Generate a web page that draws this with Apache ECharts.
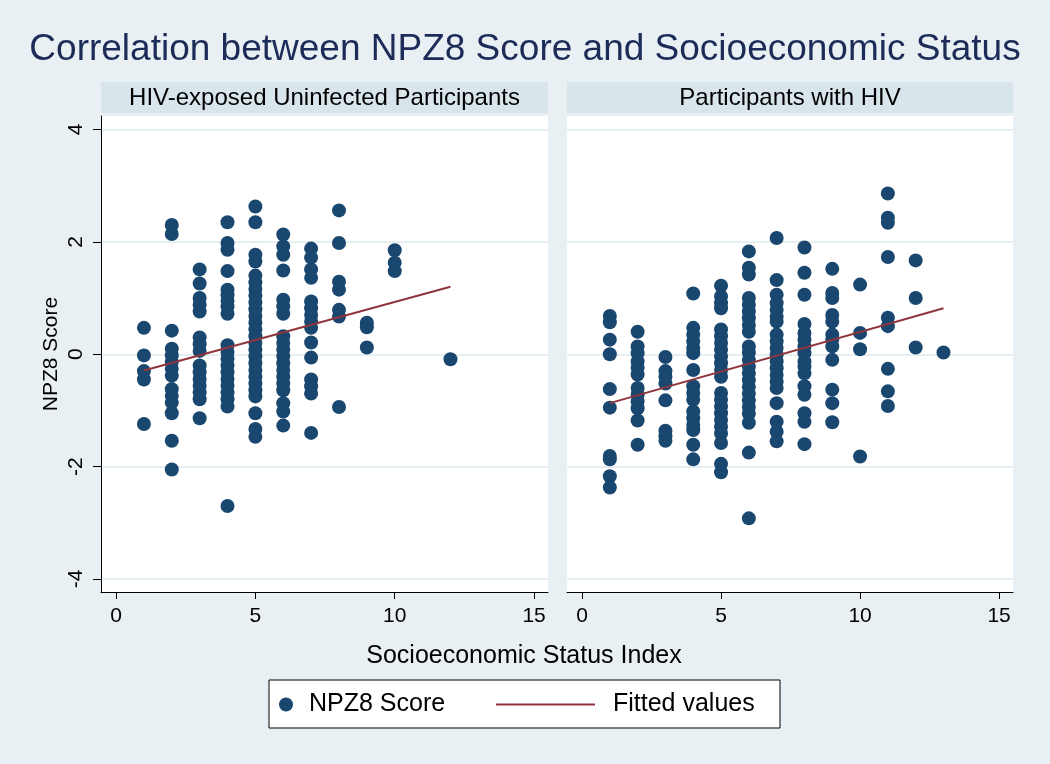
<!DOCTYPE html>
<html>
<head>
<meta charset="utf-8">
<script src="https://cdn.jsdelivr.net/npm/echarts@6/dist/echarts.min.js"></script>
<style>
html,body{margin:0;padding:0;background:#e9f0f3;}
#chart{width:1050px;height:764px;}
</style>
</head>
<body>
<div id="chart"></div>
<script>
// ---- Data ----
const titleText = 'Correlation between NPZ8 Score and Socioeconomic Status';
const panelTitles = ['HIV-exposed Uninfected Participants', 'Participants with HIV'];
const xTitle = 'Socioeconomic Status Index';
const yTitle = 'NPZ8 Score';
const xTicks = [0, 5, 10, 15];
const yTicks = [-4, -2, 0, 2, 4];

// HIV-exposed uninfected: SES index values and NPZ8 scores at each
const heuSES = [1, 2, 3, 4, 5, 6, 7, 8, 9, 10, 12];
const heuNPZ8 = [
  [0.47, -0.02, -0.30, -0.45, -1.24],
  [2.30, 2.14, 0.42, 0.10, -0.02, -0.14, -0.26, -0.38, -0.62, -0.74, -0.86, -1.05, -1.54, -2.05],
  [1.51, 1.26, 1.00, 0.88, 0.76, 0.30, 0.18, 0.06, -0.20, -0.32, -0.44, -0.56, -0.68, -0.80, -1.14],
  [2.35, 1.98, 1.86, 1.48, 1.15, 1.05, 0.95, 0.85, 0.72, 0.16, 0.04, -0.08, -0.20, -0.32, -0.44, -0.56, -0.68, -0.80, -0.93, -2.70],
  [2.63, 2.35, 1.77, 1.65, 1.40, 1.28, 1.16, 1.04, 0.92, 0.80, 0.68, 0.56, 0.44, 0.32, 0.20, 0.08, -0.04, -0.16, -0.28, -0.40, -0.52, -0.64, -0.75, -1.05, -1.33, -1.47],
  [2.13, 1.92, 1.77, 1.49, 0.97, 0.85, 0.72, 0.32, 0.20, 0.08, -0.04, -0.16, -0.28, -0.40, -0.52, -0.64, -0.87, -1.02, -1.27],
  [1.88, 1.72, 1.51, 1.36, 0.94, 0.82, 0.70, 0.58, 0.47, 0.21, -0.06, -0.45, -0.57, -0.70, -1.40],
  [2.56, 1.98, 1.29, 1.15, 0.79, 0.67, -0.94],
  [0.56, 0.48, 0.12],
  [1.85, 1.63, 1.48],
  [-0.09]
];
const heuFitX = [1, 12];
const heuFitY = [-0.29, 1.20];

// Participants with HIV
const hivSES = [1, 2, 3, 4, 5, 6, 7, 8, 9, 10, 11, 12, 13];
const hivNPZ8 = [
  [0.68, 0.57, 0.26, 0.00, -0.62, -0.95, -1.81, -1.87, -2.17, -2.37],
  [0.40, 0.14, 0.02, -0.13, -0.24, -0.36, -0.60, -0.72, -0.84, -0.96, -1.18, -1.61],
  [-0.05, -0.30, -0.40, -0.52, -0.82, -1.36, -1.46, -1.54],
  [1.08, 0.47, 0.35, 0.23, 0.11, 0.02, -0.28, -0.57, -0.69, -0.81, -1.02, -1.14, -1.26, -1.35, -1.61, -1.87],
  [1.22, 1.03, 0.91, 0.82, 0.44, 0.32, 0.20, 0.08, -0.04, -0.16, -0.28, -0.40, -0.69, -0.81, -0.93, -1.05, -1.17, -1.29, -1.41, -1.58, -1.95, -2.10],
  [1.83, 1.54, 1.42, 1.00, 0.88, 0.76, 0.64, 0.52, 0.40, 0.14, 0.03, -0.10, -0.22, -0.34, -0.46, -0.58, -0.70, -0.82, -0.94, -1.06, -1.22, -1.75, -2.92],
  [2.07, 1.32, 1.06, 0.91, 0.79, 0.67, 0.58, 0.35, 0.23, 0.11, -0.01, -0.13, -0.25, -0.37, -0.49, -0.60, -0.87, -1.20, -1.38, -1.55],
  [1.90, 1.45, 1.06, 0.54, 0.38, 0.26, 0.14, 0.02, -0.13, -0.22, -0.34, -0.57, -0.72, -1.05, -1.20, -1.60],
  [1.52, 1.09, 1.00, 0.70, 0.58, 0.35, 0.26, 0.14, -0.10, -0.63, -0.87, -1.21],
  [1.24, 0.38, 0.09, -1.82],
  [2.86, 2.43, 2.34, 1.73, 0.65, 0.50, -0.26, -0.66, -0.92],
  [1.67, 1.00, 0.12],
  [0.03]
];
const hivFitX = [1, 13];
const hivFitY = [-0.87, 0.82];

// ---- Build ----
function pairs(xs, ys) {
  const out = [];
  xs.forEach((x, i) => ys[i].forEach(v => out.push([x, v])));
  return out;
}
function line(xs, ys) { return xs.map((x, i) => [x, ys[i]]); }

const FONT = '"Liberation Sans", Arial, Helvetica, sans-serif';
const NAVY = '#1a476f';
const MAROON = '#90353b';
const GRIDC = '#e5eef1';
const STRIP = '#d8e5ea';

function xAxisFor(gi) {
  return {
    type: 'value', gridIndex: gi, min: -0.54, max: 15.5,
    axisLine: { show: true, onZero: false, lineStyle: { color: '#000', width: 1 } },
    axisTick: { show: true, length: 7, customValues: xTicks, lineStyle: { color: '#000' } },
    axisLabel: { customValues: xTicks, fontSize: 21, color: '#000', fontFamily: FONT, margin: 14 },
    splitLine: { show: false }
  };
}
function yAxisFor(gi, first) {
  return {
    type: 'value', gridIndex: gi, min: -4.231, max: 4.24,
    axisLine: { show: first, onZero: false, lineStyle: { color: '#000', width: 1 } },
    axisTick: { show: first, length: 8, customValues: yTicks, lineStyle: { color: '#000' } },
    axisLabel: { show: first, customValues: yTicks, rotate: 90, fontSize: 21, color: '#000', fontFamily: FONT, margin: 14 },
    splitLine: { show: true, lineStyle: { color: GRIDC, width: 2 } },
    name: first ? yTitle : '', nameLocation: 'middle', nameGap: 39,
    nameTextStyle: { fontSize: 21, color: '#000', fontFamily: FONT }
  };
}

const chart = echarts.init(document.getElementById('chart'), null, { renderer: 'canvas' });
chart.setOption({
  backgroundColor: '#e9f0f3',
  animation: false,
  title: {
    text: titleText, left: 'center', top: 31, padding: 0,
    textStyle: { fontSize: 37, fontWeight: 'normal', color: '#1c2b58', fontFamily: FONT }
  },
  grid: [
    { left: 101, top: 116, width: 447, height: 476, show: true, backgroundColor: '#fff', borderWidth: 0 },
    { left: 567, top: 116, width: 446, height: 476, show: true, backgroundColor: '#fff', borderWidth: 0 }
  ],
  xAxis: [xAxisFor(0), xAxisFor(1)],
  yAxis: [yAxisFor(0, true), yAxisFor(1, false)],
  legend: [
    { data: [{ name: 'NPZ8 Score', icon: 'circle' }], left: 279, top: 692, padding: 0, itemWidth: 14, itemHeight: 14, selectedMode: false,
      textStyle: { fontSize: 25, color: '#000', fontFamily: FONT, padding: [0, 0, 0, 11] } },
    { data: [{ name: 'Fitted values', icon: 'rect' }], left: 496, top: 692, padding: 0, itemWidth: 99, itemHeight: 2, selectedMode: false,
      textStyle: { fontSize: 25, color: '#000', fontFamily: FONT, padding: [0, 0, 0, 13] } }
  ],
  graphic: [
    { type: 'rect', z: 1, shape: { x: 101, y: 82, width: 447, height: 31 }, style: { fill: STRIP } },
    { type: 'rect', z: 1, shape: { x: 567, y: 82, width: 446, height: 31 }, style: { fill: STRIP } },
    { type: 'text', z: 5, x: 324.5, y: 98, style: { text: panelTitles[0], fontSize: 24, fontFamily: FONT, fill: '#000', align: 'center', verticalAlign: 'middle' } },
    { type: 'text', z: 5, x: 790, y: 98, style: { text: panelTitles[1], fontSize: 24, fontFamily: FONT, fill: '#000', align: 'center', verticalAlign: 'middle' } },
    { type: 'text', z: 5, x: 524, y: 656, style: { text: xTitle, fontSize: 25, fontFamily: FONT, fill: '#000', align: 'center', verticalAlign: 'middle' } },
    { type: 'rect', z: 1, shape: { x: 269, y: 680, width: 511, height: 48 }, style: { fill: '#fff', stroke: '#000', lineWidth: 1 } }
  ],
  series: [
    { name: 'NPZ8 Score', type: 'scatter', xAxisIndex: 0, yAxisIndex: 0, symbol: 'circle', symbolSize: 14,
      itemStyle: { color: NAVY, opacity: 1 }, data: pairs(heuSES, heuNPZ8) },
    { name: 'Fitted values', type: 'line', xAxisIndex: 0, yAxisIndex: 0, symbol: 'none',
      lineStyle: { color: MAROON, width: 2 }, itemStyle: { color: MAROON }, data: line(heuFitX, heuFitY) },
    { name: 'NPZ8 Score', type: 'scatter', xAxisIndex: 1, yAxisIndex: 1, symbol: 'circle', symbolSize: 14,
      itemStyle: { color: NAVY, opacity: 1 }, data: pairs(hivSES, hivNPZ8) },
    { name: 'Fitted values', type: 'line', xAxisIndex: 1, yAxisIndex: 1, symbol: 'none',
      lineStyle: { color: MAROON, width: 2 }, itemStyle: { color: MAROON }, data: line(hivFitX, hivFitY) }
  ]
});
</script>
</body>
</html>
